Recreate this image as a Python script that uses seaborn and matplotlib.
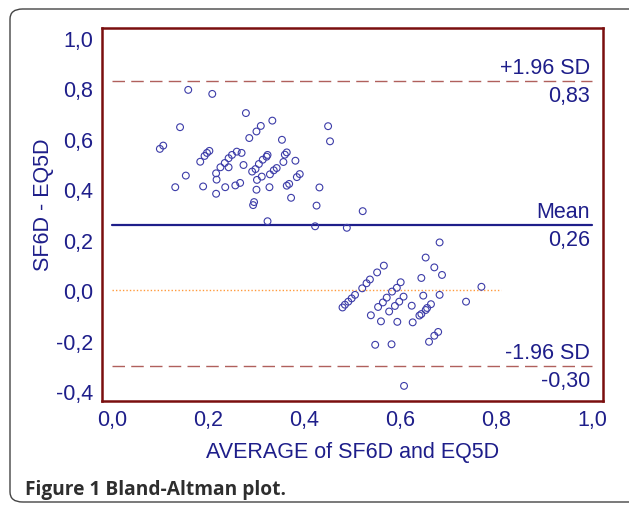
""" Bland-Altman plot of SF6D against EQ5D """
import numpy as np
import pandas as pd
import matplotlib
matplotlib.use("Agg")
import matplotlib.pyplot as plt
from matplotlib.patches import FancyBboxPatch
from matplotlib.ticker import FuncFormatter, MultipleLocator
import seaborn as sns

""" Data read off the reference picture """
average_upper = [0.159, 0.209, 0.142, 0.279, 0.334, 0.310, 0.301, 0.286, 0.354, 0.450,
                 0.454, 0.100, 0.107, 0.203, 0.198, 0.193, 0.184, 0.260, 0.270, 0.250,
                 0.243, 0.235, 0.226, 0.243, 0.274, 0.217, 0.218, 0.154, 0.132, 0.190,
                 0.217, 0.236, 0.257, 0.267, 0.324, 0.322, 0.314, 0.306, 0.299, 0.292,
                 0.302, 0.301, 0.312, 0.329, 0.337, 0.343, 0.328, 0.296, 0.294, 0.364,
                 0.360, 0.357, 0.382, 0.391, 0.385, 0.369, 0.364, 0.373, 0.432, 0.426,
                 0.324, 0.423, 0.489, 0.522]
diff_upper = [0.794, 0.778, 0.646, 0.702, 0.672, 0.651, 0.629, 0.603, 0.596, 0.650,
              0.590, 0.560, 0.573, 0.552, 0.544, 0.532, 0.509, 0.549, 0.544, 0.536,
              0.523, 0.504, 0.487, 0.487, 0.496, 0.463, 0.438, 0.454, 0.408, 0.411,
              0.382, 0.408, 0.415, 0.425, 0.536, 0.529, 0.517, 0.500, 0.480, 0.470,
              0.437, 0.398, 0.450, 0.459, 0.475, 0.484, 0.408, 0.349, 0.337, 0.546,
              0.537, 0.508, 0.513, 0.460, 0.448, 0.421, 0.414, 0.366, 0.407, 0.335,
              0.273, 0.253, 0.247, 0.313]
average_lower = [0.566, 0.552, 0.537, 0.530, 0.521, 0.506, 0.499, 0.492, 0.485, 0.480,
                 0.539, 0.560, 0.548, 0.582, 0.601, 0.593, 0.583, 0.572, 0.564, 0.554,
                 0.607, 0.598, 0.589, 0.577, 0.594, 0.624, 0.626, 0.682, 0.653, 0.671,
                 0.687, 0.644, 0.769, 0.682, 0.648, 0.737, 0.664, 0.656, 0.653, 0.644,
                 0.640, 0.679, 0.671, 0.660, 0.608]
diff_lower = [0.097, 0.070, 0.042, 0.027, 0.007, -0.019, -0.033, -0.046, -0.058, -0.069,
              -0.100, -0.124, -0.217, -0.215, 0.031, 0.009, -0.006, -0.030, -0.049, -0.067,
              -0.026, -0.046, -0.063, -0.085, -0.126, -0.062, -0.128, 0.189, 0.129, 0.090,
              0.060, 0.048, 0.013, -0.019, -0.022, -0.046, -0.056, -0.071, -0.079, -0.095,
              -0.101, -0.166, -0.181, -0.205, -0.380]

mean_diff = 0.26
upper_limit = 0.83
lower_limit = -0.30
zero_line_end = 0.81
x_ticks = [0.0, 0.2, 0.4, 0.6, 0.8, 1.0]
y_ticks = [-0.4, -0.2, 0.0, 0.2, 0.4, 0.6, 0.8, 1.0]

df = pd.DataFrame({
    "average": average_upper + average_lower,
    "difference": diff_upper + diff_lower,
})

""" Styling """
sns.set_style("white")
plt.rcParams["font.family"] = ["Liberation Sans", "DejaVu Sans"]
navy = "#1e1e8a"
spine_red = "#7a0f0f"
limit_red = "#b0605c"
point_blue = "#3c3ca8"

fig = plt.figure(figsize=(6.29, 5.06), dpi=100)
ax = fig.add_axes([0.1617, 0.206, 0.797, 0.736])

sns.scatterplot(data=df, x="average", y="difference", ax=ax,
                marker="o", s=24, facecolor="none", edgecolor=point_blue,
                linewidth=0.8, zorder=3)

""" Reference lines """
ax.plot([0, 1], [mean_diff, mean_diff], color=navy, lw=1.6, zorder=2)
for lim in (upper_limit, lower_limit):
    ax.plot([0, 1], [lim, lim], color=limit_red, lw=1.0,
            dashes=(9, 4.5), zorder=2)
ax.plot([0, zero_line_end], [0, 0], color="#ff9a3c", lw=1.0,
        linestyle=(0, (1, 1.5)), zorder=1)

""" Line labels """
for value, name in ((upper_limit, "+1.96 SD"), (mean_diff, "Mean"),
                    (lower_limit, "-1.96 SD")):
    ax.annotate(name, (0.995, value), xytext=(0, 2), textcoords="offset points",
                ha="right", va="bottom", color=navy, fontsize=15.5)
    ax.annotate(f"{value:.2f}".replace(".", ","), (0.995, value), xytext=(0, -3),
                textcoords="offset points", ha="right", va="top",
                color=navy, fontsize=15.5)

""" Axes """
ax.set_xlim(-0.021, 1.022)
ax.set_ylim(-0.439, 1.038)
ax.set_xticks(x_ticks)
ax.set_yticks(y_ticks)
ax.xaxis.set_minor_locator(MultipleLocator(0.1))
ax.yaxis.set_minor_locator(MultipleLocator(0.1))
comma = FuncFormatter(lambda v, pos: f"{v:.1f}".replace(".", ",").replace("-0,0", "0,0"))
ax.xaxis.set_major_formatter(comma)
ax.yaxis.set_major_formatter(comma)
ax.tick_params(which="both", direction="in", color=spine_red, width=1.3,
               labelcolor=navy, labelsize=15.5)
ax.tick_params(which="major", length=7, pad=6)
ax.tick_params(which="minor", length=5)
for spine in ax.spines.values():
    spine.set_color(spine_red)
    spine.set_linewidth(1.8)
ax.set_xlabel("AVERAGE of SF6D and EQ5D", color=navy, fontsize=15.5, labelpad=8)
ax.set_ylabel("")
fig.text(44 / 629, 1 - 205 / 506, "SF6D - EQ5D", rotation=90, color=navy,
         fontsize=15.5, ha="center", va="center")

""" Caption and outer frame """
fig.text(25 / 629, 1 - 490 / 506, "Figure 1 Bland-Altman plot.", color="#2e2e2e",
         fontsize=13.8, fontweight="bold", family=["Open Sans", "DejaVu Sans"],
         ha="left", va="center")
frame = FancyBboxPatch((10 / 629, 3 / 506), 640 / 629, 493 / 506,
                       boxstyle="round,pad=0,rounding_size=0.02",
                       transform=fig.transFigure, fill=False,
                       edgecolor="#444444", lw=1.0)
fig.patches.append(frame)

fig.savefig("out.png", dpi=100)
